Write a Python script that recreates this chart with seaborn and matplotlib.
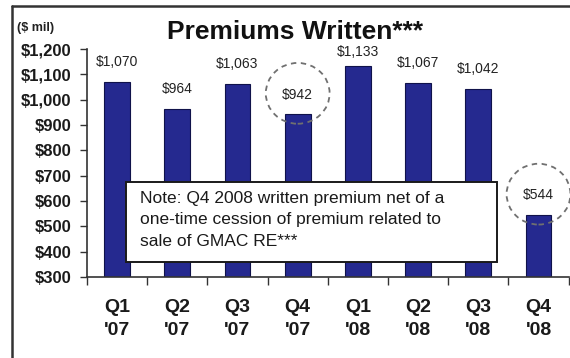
import matplotlib
matplotlib.use("Agg")
import matplotlib.pyplot as plt
from matplotlib.patches import Ellipse, Rectangle
from matplotlib.lines import Line2D
from matplotlib.ticker import FuncFormatter, FixedLocator
import seaborn as sns
import pandas as pd

# Quarterly premiums written ($ mil)
quarters = ["Q1\n'07", "Q2\n'07", "Q3\n'07", "Q4\n'07",
            "Q1\n'08", "Q2\n'08", "Q3\n'08", "Q4\n'08"]
premiums = [1070, 964, 1063, 942, 1133, 1067, 1042, 544]
highlighted = [3, 7]
note_lines = ["Note: Q4 2008 written premium net of a",
              "one-time cession of premium related to",
              "sale of GMAC RE***"]

df = pd.DataFrame({"quarter": quarters, "premium": premiums})

sns.set_theme(style="white")
plt.rcParams["font.family"] = ["Liberation Sans", "DejaVu Sans"]

fig = plt.figure(figsize=(5.70, 3.58), dpi=100)
ax = fig.add_axes([0.1526, 0.2263, 0.845, 0.6368])

bar_color = "#25298f"
sns.barplot(data=df, x="quarter", y="premium", color=bar_color, saturation=1,
            width=0.43, edgecolor="#10124a", linewidth=0.8, ax=ax, zorder=2)

ymin, ymax = 300, 1200
ax.set_ylim(ymin, ymax)
ax.set_xlim(-0.5, len(quarters) - 0.5)
ax.set_yticks(range(ymin, ymax + 1, 100))
ax.yaxis.set_major_formatter(FuncFormatter(lambda v, p: f"${v:,.0f}"))
ax.set_xlabel("")
ax.set_ylabel("")

for lab in ax.get_yticklabels():
    lab.set_fontweight("bold")
    lab.set_fontsize(12)
    lab.set_color("#1a1a1a")
ax.tick_params(axis="y", direction="out", length=5, width=1, color="#333333",
               pad=6, left=True)

# category labels centred, tick marks on the category boundaries
ax.tick_params(axis="x", which="major", length=0, pad=16, labelsize=14)
for lab in ax.get_xticklabels():
    lab.set_fontweight("bold")
    lab.set_color("#1a1a1a")
    lab.set_linespacing(1.45)
ax.xaxis.set_minor_locator(FixedLocator([i - 0.5 for i in range(len(quarters) + 1)]))
ax.tick_params(axis="x", which="minor", direction="out", length=6, width=1,
               color="#333333", bottom=True)

for s in ["top", "right"]:
    ax.spines[s].set_visible(False)
for s in ["left", "bottom"]:
    ax.spines[s].set_color("#333333")
    ax.spines[s].set_linewidth(1.2)

# value labels above each bar, kept below the title
label_gap = 78
label_cap = 1188
label_y = [min(v + label_gap, label_cap) for v in premiums]
for i, (v, y) in enumerate(zip(premiums, label_y)):
    ax.text(i, y, f"${v:,.0f}", ha="center", va="center", fontsize=10,
            color="#222222", zorder=4)

# dashed circles around the Q4 figures
for i in highlighted:
    cy = label_y[i] + 5
    ax.add_patch(Ellipse((i, cy), width=1.06, height=240, fill=False,
                         edgecolor="#707070", linestyle=(0, (3, 2.5)),
                         linewidth=1.3, zorder=3, clip_on=False))

# note box
ax.add_patch(Rectangle((0.081, 0.066), 0.77, 0.351, transform=ax.transAxes,
                       facecolor="white", edgecolor="#1a1a1a", linewidth=1.4,
                       zorder=5))
for k, line in enumerate(note_lines):
    ax.text(0.111, 0.345 - k * 0.094, line, transform=ax.transAxes,
            ha="left", va="center", fontsize=12.5, color="#1a1a1a", zorder=6)

# title and unit
fig.text(0.518, 0.910, "Premiums Written***", ha="center", va="center",
         fontsize=19, fontweight="bold", color="#111111")
fig.text(0.030, 0.922, "($ mil)", ha="left", va="center",
         fontsize=9, fontweight="bold", color="#222222")

# frame lines along the top and left edges
fig.add_artist(Line2D([0.021, 1.0], [0.983, 0.983], transform=fig.transFigure,
                      color="#333333", linewidth=1.8))
fig.add_artist(Line2D([0.021, 0.021], [0.0, 0.983], transform=fig.transFigure,
                      color="#333333", linewidth=1.8))

fig.savefig("out.png", dpi=100, facecolor="white")
